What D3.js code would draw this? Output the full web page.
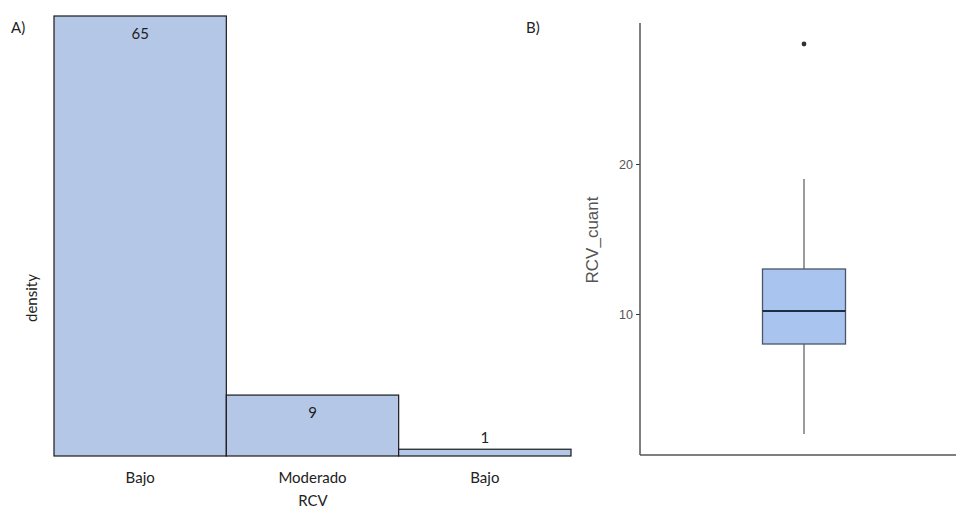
<!DOCTYPE html>
<html><head><meta charset="utf-8">
<script src="https://cdn.jsdelivr.net/npm/d3@7"></script>
<style>body{margin:0;background:#fff}svg{display:block}</style>
</head><body>
<svg id="c" width="956" height="513"></svg>
<script>
// Panel A data
const categories = ["Bajo", "Moderado", "Bajo "];
const tickLabels = ["Bajo", "Moderado", "Bajo"];
const counts = [65, 9, 1];
// Panel B data (box plot summary)
const boxCategory = ["RCV"];
const boxStats = [{q1: 8, median: 10.2, q3: 13, lower: 2, upper: 19}];
const outliers = [28];
const yTicksB = [10, 20];

const svg = d3.select("#c");
const font = "Lato, 'Open Sans', sans-serif";

// ---------- Panel A ----------
const xA = d3.scaleBand().domain(categories).range([54, 571]).padding(0);
const yA = d3.scaleLinear().domain([0, 65]).range([456, 16]);

const gA = svg.append("g");
gA.selectAll("rect.bar").data(counts).join("rect")
  .attr("x", (d, i) => xA(categories[i]))
  .attr("y", d => yA(d))
  .attr("width", xA.bandwidth())
  .attr("height", d => yA(0) - yA(d))
  .attr("fill", "#b4c7e7")
  .attr("stroke", "#1a1a1a")
  .attr("stroke-width", 1.2);

gA.selectAll("text.val").data(counts).join("text")
  .attr("x", (d, i) => xA(categories[i]) + xA.bandwidth() / 2)
  .attr("y", d => (yA(0) - yA(d) > 30) ? yA(d) + 23 : yA(d) - 6)
  .attr("text-anchor", "middle")
  .attr("font-family", font).attr("font-size", 15).attr("fill", "#222")
  .text(d => d);

const axA = gA.append("g").attr("transform", "translate(0,456)")
  .call(d3.axisBottom(xA).tickSize(0).tickPadding(16).tickFormat((d, i) => tickLabels[i]));
axA.select(".domain").remove();
axA.selectAll("text").attr("font-family", font).attr("font-size", 15).attr("fill", "#222");

gA.append("text").attr("x", 313).attr("y", 506).attr("text-anchor", "middle")
  .attr("font-family", font).attr("font-size", 15).attr("fill", "#222").text("RCV");
gA.append("text").attr("transform", "translate(37,298) rotate(-90)").attr("text-anchor", "middle")
  .attr("font-family", font).attr("font-size", 15).attr("fill", "#222").text("density");
gA.append("text").attr("x", 11).attr("y", 33)
  .attr("font-family", font).attr("font-size", 15).attr("fill", "#222").text("A)");

// ---------- Panel B ----------
const xB = d3.scaleBand().domain(boxCategory).range([640, 968]).padding(0);
const yB = d3.scaleLinear().domain([0, 10]).range([464, 314]);
const gB = svg.append("g");

const axB = gB.append("g").attr("transform", "translate(640,0)")
  .call(d3.axisLeft(yB).tickValues(yTicksB).tickSize(4).tickPadding(3));
axB.select(".domain").remove();
axB.selectAll(".tick line").attr("stroke", "#333").attr("stroke-width", 1);
axB.selectAll("text").attr("font-family", "'Liberation Sans', Arial, sans-serif").attr("font-size", 12.5).attr("fill", "#555");

gB.append("line").attr("x1", 640).attr("x2", 640).attr("y1", 23).attr("y2", yB(0.6))
  .attr("stroke", "#555").attr("stroke-width", 1.5);
gB.append("line").attr("x1", 640).attr("x2", 956).attr("y1", yB(0.6)).attr("y2", yB(0.6))
  .attr("stroke", "#555").attr("stroke-width", 1.5);

const cx = xB(boxCategory[0]) + xB.bandwidth() / 2;
const bw = 83;
boxStats.forEach(s => {
  gB.append("line").attr("x1", cx).attr("x2", cx).attr("y1", yB(s.upper)).attr("y2", yB(s.q3))
    .attr("stroke", "#666").attr("stroke-width", 1.3);
  gB.append("line").attr("x1", cx).attr("x2", cx).attr("y1", yB(s.q1)).attr("y2", yB(s.lower))
    .attr("stroke", "#666").attr("stroke-width", 1.3);
  gB.append("rect").attr("x", cx - bw / 2).attr("y", yB(s.q3)).attr("width", bw)
    .attr("height", yB(s.q1) - yB(s.q3)).attr("fill", "#a9c5ef").attr("stroke", "#4a5566").attr("stroke-width", 1.3);
  gB.append("line").attr("x1", cx - bw / 2).attr("x2", cx + bw / 2).attr("y1", yB(s.median)).attr("y2", yB(s.median))
    .attr("stroke", "#1f2d44").attr("stroke-width", 2.2);
});
gB.selectAll("circle.out").data(outliers).join("circle")
  .attr("cx", cx).attr("cy", d => yB(d)).attr("r", 2.4).attr("fill", "#333");

gB.append("text").attr("transform", "translate(598,240) rotate(-90)").attr("text-anchor", "middle")
  .attr("font-family", "'Liberation Sans', Arial, sans-serif").attr("font-size", 17).attr("fill", "#555").text("RCV_cuant");
gB.append("text").attr("x", 526).attr("y", 33)
  .attr("font-family", font).attr("font-size", 15).attr("fill", "#222").text("B)");
</script>
</body></html>
